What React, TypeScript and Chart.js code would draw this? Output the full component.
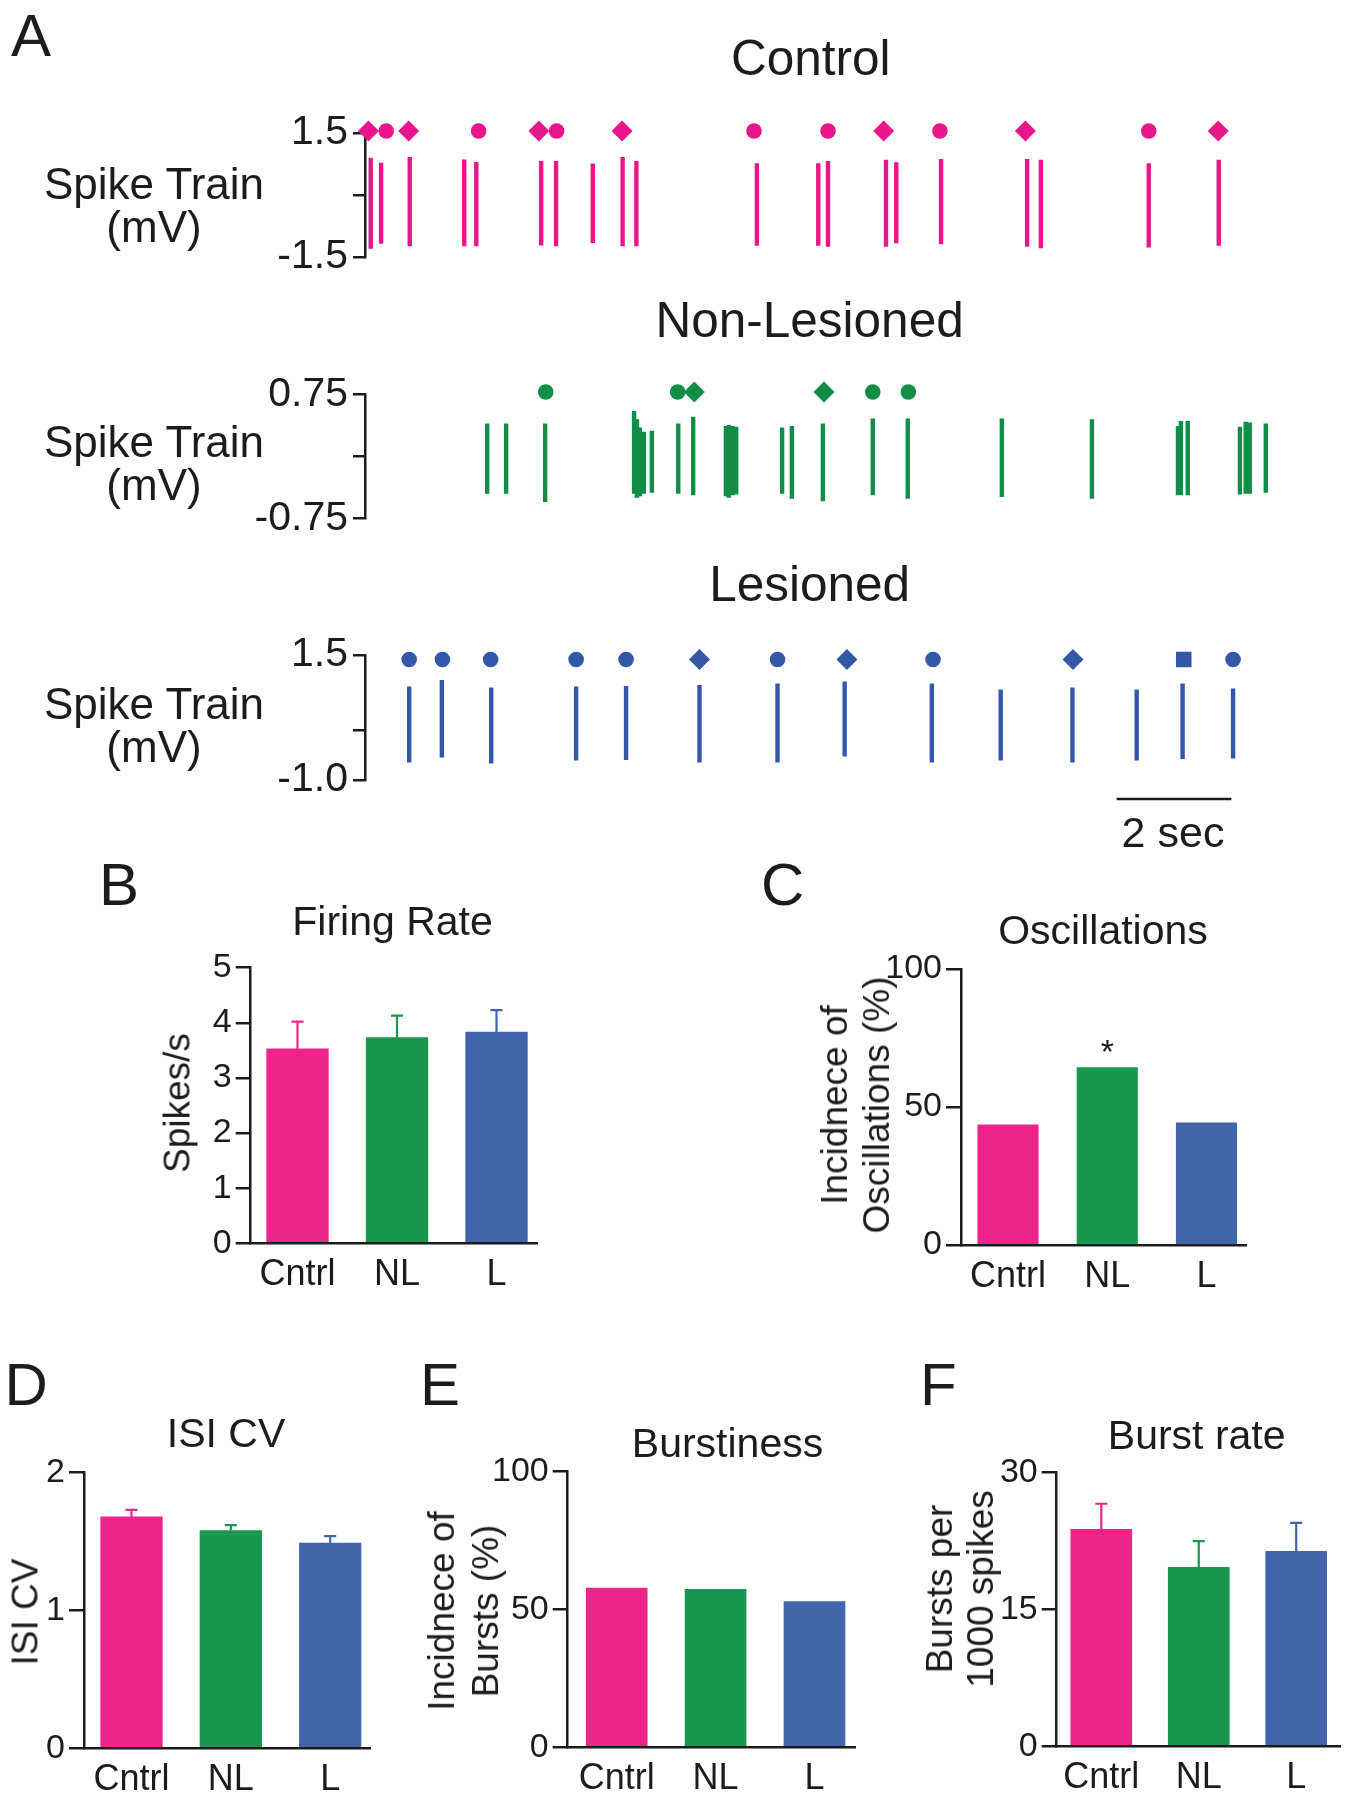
import React, { useEffect, useRef } from 'react';
import { Chart, registerables } from 'chart.js';

Chart.register(...registerables);

const FONT = '"Liberation Sans", Arial, Helvetica, sans-serif';
const NARROW = '"Liberation Sans Narrow", "Arial Narrow", "Liberation Sans", Arial, sans-serif';
const INK = '#1c1c1c';

Chart.defaults.font.family = FONT;
Chart.defaults.color = INK;

// ---------------- Panel A : spike trains (time in s, amplitude in mV) ----------------
const traceDuration = 16;

const controlSpikeTimes = [0.10, 0.28, 0.78, 1.73, 1.94, 3.07, 3.33, 3.97, 4.49, 4.73, 6.83, 7.90, 8.07, 9.08, 9.26, 10.04, 11.54, 11.78, 13.66, 14.88];
const controlSpikeTops = [0.90, 0.78, 0.92, 0.86, 0.80, 0.82, 0.82, 0.76, 0.92, 0.82, 0.77, 0.77, 0.82, 0.85, 0.79, 0.87, 0.87, 0.85, 0.77, 0.85];
const controlSpikeBottoms = [-1.30, -1.18, -1.24, -1.24, -1.24, -1.22, -1.24, -1.16, -1.24, -1.24, -1.23, -1.23, -1.25, -1.25, -1.17, -1.19, -1.25, -1.29, -1.27, -1.23];
const controlMarkerTimes = [0.06, 0.37, 0.76, 1.98, 3.03, 3.34, 4.48, 6.78, 8.07, 9.04, 10.02, 11.51, 13.66, 14.87];
const controlMarkerShapes = ['diamond', 'circle', 'diamond', 'circle', 'diamond', 'circle', 'diamond', 'circle', 'circle', 'diamond', 'circle', 'diamond', 'circle', 'diamond'];
const controlMarkerLevel = 1.55;
const controlTickValues = [-1.5, 0, 1.5];
const controlTickLabels = ['-1.5', '', '1.5'];

const nlSpikeTimes = [2.13, 2.46, 3.14, 4.69, 4.74, 4.79, 4.86, 5.00, 5.46, 5.72, 6.29, 6.34, 6.40, 6.47, 7.27, 7.44, 7.98, 8.85, 9.46, 11.10, 12.67, 14.17, 14.22, 14.34, 15.25, 15.35, 15.42, 15.70];
const nlSpikeTops = [0.40, 0.40, 0.40, 0.55, 0.45, 0.35, 0.30, 0.31, 0.40, 0.48, 0.37, 0.38, 0.37, 0.36, 0.35, 0.37, 0.40, 0.46, 0.46, 0.46, 0.45, 0.37, 0.43, 0.43, 0.36, 0.42, 0.41, 0.40];
const nlSpikeBottoms = [-0.45, -0.45, -0.55, -0.45, -0.50, -0.48, -0.45, -0.44, -0.45, -0.47, -0.48, -0.50, -0.47, -0.46, -0.45, -0.51, -0.54, -0.47, -0.51, -0.49, -0.51, -0.47, -0.47, -0.47, -0.46, -0.45, -0.45, -0.44];
const nlMarkerTimes = [3.15, 5.45, 5.74, 8.00, 8.85, 9.47];
const nlMarkerShapes = ['circle', 'circle', 'diamond', 'diamond', 'circle', 'circle'];
const nlMarkerLevel = 0.78;
const nlTickValues = [-0.75, 0, 0.75];
const nlTickLabels = ['-0.75', '', '0.75'];

const lesSpikeTimes = [0.77, 1.34, 2.20, 3.68, 4.55, 5.83, 7.19, 8.36, 9.88, 11.08, 12.33, 13.45, 14.25, 15.13];
const lesSpikeTops = [0.87, 1.00, 0.85, 0.87, 0.88, 0.90, 0.93, 0.97, 0.93, 0.81, 0.85, 0.81, 0.93, 0.83];
const lesSpikeBottoms = [-0.65, -0.55, -0.67, -0.61, -0.60, -0.65, -0.65, -0.53, -0.65, -0.61, -0.65, -0.61, -0.58, -0.57];
const lesMarkerTimes = [0.77, 1.35, 2.19, 3.68, 4.55, 5.83, 7.19, 8.40, 9.90, 12.34, 14.27, 15.13];
const lesMarkerShapes = ['circle', 'circle', 'circle', 'circle', 'circle', 'diamond', 'circle', 'diamond', 'circle', 'diamond', 'square', 'circle'];
const lesMarkerLevel = 1.41;
const lesTickValues = [-1.0, 0, 1.5];
const lesTickLabels = ['-1.0', '', '1.5'];

const scaleBarStart = 13.1;
const scaleBarSeconds = 2;
const scaleBarLevel = -1.38;

// ---------------- Panels B-F : group summaries ----------------
const categories = ['Cntrl', 'NL', 'L'];
const firingRate = [3.53, 3.73, 3.83];
const firingRateSem = [0.49, 0.40, 0.40];
const firingRateTicks = [0, 1, 2, 3, 4, 5];
const oscillationIncidence = [43.5, 64.3, 44.3];
const oscillationMarks = ['', '*', ''];
const oscillationTicks = [0, 50, 100];
const isiCv = [1.68, 1.58, 1.49];
const isiCvSem = [0.05, 0.04, 0.05];
const isiCvTicks = [0, 1, 2];
const burstIncidence = [57.8, 57.4, 52.9];
const burstIncidenceTicks = [0, 50, 100];
const burstRate = [23.8, 19.65, 21.4];
const burstRateSem = [2.8, 2.85, 3.1];
const burstRateTicks = [0, 15, 30];

const PINK = '#EC248C';
const GREEN = '#19964F';
const BLUE = '#4264AA';
const barColors = [PINK, GREEN, BLUE];
const PINK_TRACE = '#E8168A';
const GREEN_TRACE = '#118D48';
const BLUE_TRACE = '#3458A8';

// ---------------- components ----------------
type SpikeSpec = {
  times: number[]; tops: number[]; bottoms: number[];
  markerTimes: number[]; markerShapes: string[]; markerLevel: number;
  tickValues: number[]; tickLabels: string[];
  color: string; yMin: number; yMax: number;
  canvasTop: number; canvasHeight: number; areaTop: number; areaBottom: number;
  axisX: number; areaRight: number; scaleBar?: boolean;
};

function SpikeTrain(p: SpikeSpec) {
  const ref = useRef<HTMLCanvasElement>(null);
  useEffect(() => {
    const spikeData: any[] = [];
    p.times.forEach((t, i) => {
      spikeData.push({ x: t, y: p.bottoms[i] }, { x: t, y: p.tops[i] }, { x: t, y: null });
    });
    const markerData = p.markerTimes.map((t) => ({ x: t, y: p.markerLevel }));
    const styles = p.markerShapes.map((s) => (s === 'diamond' ? 'rectRot' : s === 'square' ? 'rect' : 'circle'));
    const radii = p.markerShapes.map((s) => (s === 'diamond' ? 10.5 : s === 'square' ? 11 : 7.8));
    const datasets: any[] = [
      {
        type: 'scatter', data: spikeData, showLine: true, borderColor: p.color, borderWidth: 4.4,
        pointRadius: 0, borderCapStyle: 'butt', spanGaps: false, clip: false, order: 2,
      },
      {
        type: 'scatter', data: markerData, pointStyle: styles, pointRadius: radii,
        backgroundColor: p.color, borderColor: p.color, borderWidth: 0, clip: false, order: 1,
      },
    ];
    if (p.scaleBar) {
      datasets.push({
        type: 'scatter',
        data: [{ x: scaleBarStart, y: scaleBarLevel }, { x: scaleBarStart + scaleBarSeconds, y: scaleBarLevel }],
        showLine: true, borderColor: INK, borderWidth: 2.5, pointRadius: 0, clip: false, order: 0,
      });
    }
    const chart = new Chart(ref.current as HTMLCanvasElement, {
      type: 'scatter',
      data: { datasets },
      options: {
        animation: false, responsive: false, devicePixelRatio: 1, events: [],
        layout: {
          padding: {
            left: 0, right: 1346 - p.areaRight,
            top: p.areaTop - p.canvasTop,
            bottom: p.canvasTop + p.canvasHeight - p.areaBottom,
          },
        },
        plugins: { legend: { display: false }, tooltip: { enabled: false } },
        scales: {
          x: { type: 'linear', display: false, min: 0, max: traceDuration },
          y: {
            type: 'linear', min: p.yMin, max: p.yMax,
            afterFit: (s: any) => { s.width = p.axisX; },
            afterBuildTicks: (s: any) => { s.ticks = p.tickValues.map((v) => ({ value: v })); },
            ticks: {
              callback: (_v: any, i: number) => p.tickLabels[i],
              font: { family: FONT, size: 41 }, color: INK, padding: 5, autoSkip: false,
            },
            grid: { display: true, drawOnChartArea: false, drawTicks: true, tickLength: 12, color: INK, lineWidth: 2.5 },
            border: { display: true, color: INK, width: 2.5 },
          },
        },
      } as any,
    });
    return () => chart.destroy();
  }, []);
  return (
    <canvas ref={ref} width={1346} height={p.canvasHeight}
      style={{ position: 'absolute', left: 0, top: p.canvasTop, width: 1346, height: p.canvasHeight }} />
  );
}

type BarSpec = {
  values: number[]; errors?: number[]; marks?: string[]; yTicks: number[]; yMax: number;
  canvasLeft: number; canvasTop: number; canvasWidth: number; canvasHeight: number;
  axisX: number; areaTop: number; areaBottom: number; rightEnd: number;
  firstCenter: number; spacing: number; barWidth: number;
};

function BarPanel(p: BarSpec) {
  const ref = useRef<HTMLCanvasElement>(null);
  useEffect(() => {
    const xMin = (p.axisX - p.firstCenter) / p.spacing;
    const xMax = (p.rightEnd - p.firstCenter) / p.spacing;
    const extras = {
      id: 'barExtras',
      afterDatasetsDraw(chart: any) {
        const meta = chart.getDatasetMeta(0);
        const ys = chart.scales.y;
        const ctx = chart.ctx;
        meta.data.forEach((bar: any, i: number) => {
          const v = p.values[i];
          if (p.errors) {
            const base = ys.getPixelForValue(v);
            const top = ys.getPixelForValue(v + p.errors[i]);
            ctx.save();
            ctx.strokeStyle = barColors[i];
            ctx.lineWidth = 2.2;
            ctx.beginPath();
            ctx.moveTo(bar.x, base);
            ctx.lineTo(bar.x, top);
            ctx.moveTo(bar.x - 6, top);
            ctx.lineTo(bar.x + 6, top);
            ctx.stroke();
            ctx.restore();
          }
          if (p.marks && p.marks[i]) {
            ctx.save();
            ctx.fillStyle = INK;
            ctx.font = `34px ${FONT}`;
            ctx.textAlign = 'center';
            ctx.textBaseline = 'alphabetic';
            ctx.fillText(p.marks[i], bar.x, ys.getPixelForValue(v) - 5);
            ctx.restore();
          }
        });
      },
    };
    const chart = new Chart(ref.current as HTMLCanvasElement, {
      type: 'bar',
      data: {
        datasets: [{
          data: p.values.map((v, i) => ({ x: i, y: v })),
          backgroundColor: barColors, borderWidth: 0, barThickness: p.barWidth,
        }],
      },
      options: {
        animation: false, responsive: false, devicePixelRatio: 1, events: [],
        layout: {
          padding: {
            left: 0, bottom: 0,
            top: p.areaTop - p.canvasTop,
            right: p.canvasLeft + p.canvasWidth - p.rightEnd,
          },
        },
        plugins: { legend: { display: false }, tooltip: { enabled: false } },
        scales: {
          x: {
            type: 'linear', min: xMin, max: xMax, offset: false,
            afterFit: (s: any) => { s.height = p.canvasTop + p.canvasHeight - p.areaBottom; },
            afterBuildTicks: (s: any) => { s.ticks = categories.map((_c, i) => ({ value: i })); },
            ticks: {
              callback: (_v: any, i: number) => categories[i],
              font: { family: FONT, size: 36 }, color: INK, padding: 10, autoSkip: false, maxRotation: 0,
            },
            grid: { display: false, drawTicks: false },
            border: { display: true, color: INK, width: 2.5, z: 1 },
          },
          y: {
            type: 'linear', min: 0, max: p.yMax,
            afterFit: (s: any) => { s.width = p.axisX - p.canvasLeft; },
            afterBuildTicks: (s: any) => { s.ticks = p.yTicks.map((v) => ({ value: v })); },
            ticks: {
              callback: (v: any) => String(v),
              font: { family: NARROW, size: 34 }, color: INK, padding: 4, autoSkip: false,
            },
            grid: { display: true, drawOnChartArea: false, drawTicks: true, tickLength: 15, color: INK, lineWidth: 2.5 },
            border: { display: true, color: INK, width: 2.5, z: 1 },
          },
        },
      } as any,
      plugins: [extras],
    });
    return () => chart.destroy();
  }, []);
  return (
    <canvas ref={ref} width={p.canvasWidth} height={p.canvasHeight}
      style={{ position: 'absolute', left: p.canvasLeft, top: p.canvasTop, width: p.canvasWidth, height: p.canvasHeight }} />
  );
}

type LabelProps = { x: number; y: number; size: number; text: string; lh?: number; rotate?: boolean; left?: boolean };

function Label({ x, y, size, text, lh, rotate, left }: LabelProps) {
  const lineH = lh ?? Math.round(size * 1.15);
  const lines = text.split('\n').length;
  const base: React.CSSProperties = {
    position: 'absolute', fontSize: size, lineHeight: `${lineH}px`, whiteSpace: 'pre',
    textAlign: 'center', color: INK, fontFamily: FONT,
  };
  if (rotate) {
    return <div style={{ ...base, left: x, top: y, transform: 'translate(-50%, -50%) rotate(-90deg)' }}>{text}</div>;
  }
  if (left) {
    return <div style={{ ...base, textAlign: 'left', left: x, top: y - (lines * lineH) / 2 }}>{text}</div>;
  }
  return <div style={{ ...base, left: x, top: y - (lines * lineH) / 2, transform: 'translateX(-50%)' }}>{text}</div>;
}

export default function App() {
  return (
    <div style={{ position: 'absolute', left: 0, top: 0, width: 1346, height: 1800, background: '#ffffff', overflow: 'hidden', fontFamily: FONT }}>
      <SpikeTrain times={controlSpikeTimes} tops={controlSpikeTops} bottoms={controlSpikeBottoms}
        markerTimes={controlMarkerTimes} markerShapes={controlMarkerShapes} markerLevel={controlMarkerLevel}
        tickValues={controlTickValues} tickLabels={controlTickLabels} color={PINK_TRACE} yMin={-1.5} yMax={1.5}
        canvasTop={80} canvasHeight={215} areaTop={133} areaBottom={257} axisX={365} areaRight={1283} />
      <SpikeTrain times={nlSpikeTimes} tops={nlSpikeTops} bottoms={nlSpikeBottoms}
        markerTimes={nlMarkerTimes} markerShapes={nlMarkerShapes} markerLevel={nlMarkerLevel}
        tickValues={nlTickValues} tickLabels={nlTickLabels} color={GREEN_TRACE} yMin={-0.75} yMax={0.75}
        canvasTop={340} canvasHeight={215} areaTop={394.5} areaBottom={518.5} axisX={365} areaRight={1283} />
      <SpikeTrain times={lesSpikeTimes} tops={lesSpikeTops} bottoms={lesSpikeBottoms}
        markerTimes={lesMarkerTimes} markerShapes={lesMarkerShapes} markerLevel={lesMarkerLevel}
        tickValues={lesTickValues} tickLabels={lesTickLabels} color={BLUE_TRACE} yMin={-1.0} yMax={1.5}
        canvasTop={600} canvasHeight={230} areaTop={655} areaBottom={780} axisX={365} areaRight={1283} scaleBar />

      <BarPanel values={firingRate} errors={firingRateSem} yTicks={firingRateTicks} yMax={5}
        canvasLeft={150} canvasTop={940} canvasWidth={420} canvasHeight={360}
        axisX={250.7} areaTop={967.7} areaBottom={1243.3} rightEnd={537}
        firstCenter={297.5} spacing={99.5} barWidth={61.7} />
      <BarPanel values={oscillationIncidence} marks={oscillationMarks} yTicks={oscillationTicks} yMax={100}
        canvasLeft={880} canvasTop={940} canvasWidth={400} canvasHeight={360}
        axisX={961} areaTop={969} areaBottom={1245} rightEnd={1246.7}
        firstCenter={1008} spacing={99.25} barWidth={60.5} />
      <BarPanel values={isiCv} errors={isiCvSem} yTicks={isiCvTicks} yMax={2}
        canvasLeft={0} canvasTop={1440} canvasWidth={400} canvasHeight={360}
        axisX={84} areaTop={1472.7} areaBottom={1748.3} rightEnd={370.7}
        firstCenter={131.5} spacing={99.35} barWidth={61.6} />
      <BarPanel values={burstIncidence} yTicks={burstIncidenceTicks} yMax={100}
        canvasLeft={480} canvasTop={1440} canvasWidth={400} canvasHeight={360}
        axisX={567.7} areaTop={1471.7} areaBottom={1747.7} rightEnd={855}
        firstCenter={616.7} spacing={98.9} barWidth={61} />
      <BarPanel values={burstRate} errors={burstRateSem} yTicks={burstRateTicks} yMax={30}
        canvasLeft={960} canvasTop={1440} canvasWidth={386} canvasHeight={360}
        axisX={1056.7} areaTop={1472.7} areaBottom={1746.7} rightEnd={1340}
        firstCenter={1101.3} spacing={97.45} barWidth={61} />

      {/* panel letters */}
      <Label left x={11} y={35.5} size={60} text="A" />
      <Label left x={99} y={884.7} size={60} text="B" />
      <Label left x={761} y={884.7} size={60} text="C" />
      <Label left x={4.5} y={1384.4} size={60} text="D" />
      <Label left x={420} y={1384} size={60} text="E" />
      <Label left x={920} y={1384} size={60} text="F" />

      {/* panel A titles and labels */}
      <Label x={810.7} y={57} size={49.5} text="Control" />
      <Label x={809.6} y={319.5} size={49.5} text="Non-Lesioned" />
      <Label x={809.6} y={583} size={49.5} text="Lesioned" />
      <Label x={154} y={204.5} size={44} lh={43} text={'Spike Train\n(mV)'} />
      <Label x={154} y={462.5} size={44} lh={43} text={'Spike Train\n(mV)'} />
      <Label x={154} y={725} size={44} lh={43} text={'Spike Train\n(mV)'} />
      <Label x={1173} y={832} size={43} text="2 sec" />

      {/* panel titles */}
      <Label x={392.5} y={921} size={41} text="Firing Rate" />
      <Label x={1103} y={930} size={41} text="Oscillations" />
      <Label x={226} y={1433} size={41} text="ISI CV" />
      <Label x={727.5} y={1443.5} size={41} text="Burstiness" />
      <Label x={1196.7} y={1435} size={41} text="Burst rate" />

      {/* y-axis titles */}
      <Label rotate x={176.5} y={1103} size={37} text="Spikes/s" />
      <Label rotate x={856} y={1105} size={37} lh={42} text={'Incidnece of\nOscillations (%)'} />
      <Label rotate x={25} y={1612} size={37} text="ISI CV" />
      <Label rotate x={463.7} y={1611} size={37} lh={44} text={'Incidnece of\nBursts (%)'} />
      <Label rotate x={959.5} y={1589} size={37} lh={41} text={'Bursts per\n1000 spikes'} />
    </div>
  );
}
